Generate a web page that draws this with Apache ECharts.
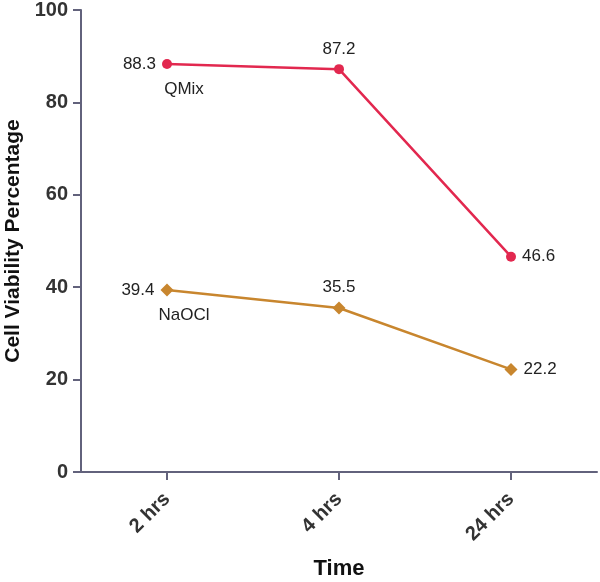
<!DOCTYPE html>
<html lang="en">
<head>
    <meta charset="UTF-8">
    <title>Cell Viability</title>
    <script src="https://cdn.jsdelivr.net/npm/echarts@6/dist/echarts.min.js"></script>
    <style type="text/css">
        html, body { margin: 0; padding: 0; background: #fff; }
    </style>
</head>
<body>
<div id="main" style="width: 600px;height:582px;"></div>
<script>
    var categories = ['2 hrs', '4 hrs', '24 hrs'];
    var qmixValues = [88.3, 87.2, 46.6];
    var naoclValues = [39.4, 35.5, 22.2];
    var yTicks = [0, 20, 40, 60, 80, 100];

    // label placement per point: left, above, right
    var labelPos = ['left', 'top', 'right'];

    function points(values) {
        return values.map(function (v, i) {
            return {value: v, label: {position: labelPos[i]}};
        });
    }

    var axisColor = '#62627c';
    var font = 'Liberation Sans';

    // series name written under the first point
    function nameMark(name, values) {
        return {
            symbol: 'circle',
            symbolSize: 1,
            itemStyle: {color: 'rgba(0,0,0,0)'},
            label: {
                show: true,
                position: 'inside',
                formatter: name,
                color: '#222',
                fontSize: 17,
                fontFamily: font,
                offset: [17, 25]
            },
            data: [{coord: [0, values[0]]}]
        };
    }

    var myChart = echarts.init(document.getElementById('main'));
    var option = {
        animation: false,
        grid: {left: 81, right: 3, top: 10, bottom: 110, outerBoundsMode: 'none', containLabel: false},
        xAxis: {
            type: 'category',
            data: categories,
            name: 'Time',
            nameLocation: 'middle',
            nameGap: 86,
            nameTextStyle: {fontSize: 22, fontWeight: 'bold', color: '#111', fontFamily: font},
            axisLine: {lineStyle: {color: axisColor, width: 2}},
            axisTick: {show: true, alignWithLabel: true, interval: 0, length: 8, lineStyle: {color: axisColor, width: 2}},
            axisLabel: {rotate: 45, interval: 0, fontSize: 20, fontWeight: 'bold', color: '#333', fontFamily: font, margin: 24}
        },
        yAxis: {
            type: 'value',
            min: yTicks[0],
            max: yTicks[yTicks.length - 1],
            interval: 20,
            name: 'Cell Viability Percentage',
            nameLocation: 'middle',
            nameGap: 56,
            nameTextStyle: {fontSize: 21, fontWeight: 'bold', color: '#111', fontFamily: font},
            axisLine: {show: true, lineStyle: {color: axisColor, width: 2}},
            axisTick: {show: true, length: 8, lineStyle: {color: axisColor, width: 2}},
            splitLine: {show: false},
            axisLabel: {fontSize: 20, fontWeight: 'bold', color: '#333', fontFamily: font, margin: 13}
        },
        series: [
            {
                name: 'QMix',
                type: 'line',
                data: points(qmixValues),
                symbol: 'circle',
                symbolSize: 10,
                itemStyle: {color: '#e2284f'},
                lineStyle: {color: '#e2284f', width: 2.5},
                label: {show: true, color: '#222', fontSize: 17, fontFamily: font, distance: 6},
                markPoint: nameMark('QMix', qmixValues)
            },
            {
                name: 'NaOCl',
                type: 'line',
                data: points(naoclValues),
                symbol: 'diamond',
                symbolSize: 13,
                itemStyle: {color: '#c8862e'},
                lineStyle: {color: '#c8862e', width: 2.5},
                label: {show: true, color: '#222', fontSize: 17, fontFamily: font, distance: 6},
                markPoint: nameMark('NaOCl', naoclValues)
            }
        ]
    };
    myChart.setOption(option);
</script>
</body>
</html>
